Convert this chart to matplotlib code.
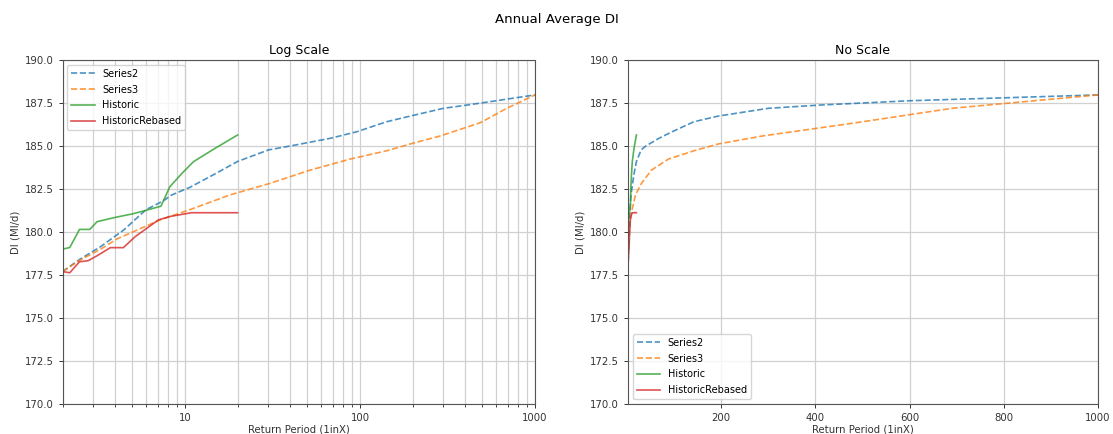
import matplotlib
matplotlib.use("Agg")
import matplotlib.pyplot as plt
from matplotlib.ticker import FormatStrFormatter, FuncFormatter, NullFormatter

# Series (return period, value)
series2_x = [2, 2.5, 3.3, 4.45, 6.0, 7.5, 8.4, 10.7, 15, 20, 30, 40, 68, 96, 142, 194, 300, 410, 600, 1000]
series2_y = [177.7, 178.4, 179.15, 180.1, 181.3, 181.8, 182.15, 182.6, 183.4, 184.1, 184.77, 185.0,
             185.45, 185.83, 186.41, 186.74, 187.19, 187.38, 187.63, 187.97]

series3_x = [2, 2.5, 3.3, 4.1, 7.2, 10.7, 18, 30.7, 52, 88, 142, 194, 287, 486, 690, 1000]
series3_y = [177.7, 178.35, 179.0, 179.6, 180.7, 181.3, 182.15, 182.83, 183.6, 184.24, 184.72,
             185.12, 185.58, 186.35, 187.19, 187.97]

historic_x = [2.0, 2.2, 2.5, 2.86, 3.15, 4.0, 5.0, 5.9, 7.3, 8.2, 9.6, 11.2, 14.9, 20]
historic_y = [179.0, 179.1, 180.15, 180.15, 180.6, 180.85, 181.05, 181.24, 181.5, 182.63, 183.4,
              184.09, 184.87, 185.64]

rebased_x = [2.0, 2.2, 2.5, 2.8, 3.2, 3.75, 4.45, 5.2, 7.05, 8.2, 10.9, 20]
rebased_y = [177.7, 177.63, 178.27, 178.33, 178.66, 179.09, 179.09, 179.73, 180.7, 180.9, 181.12, 181.12]

series_names = ["Series2", "Series3", "Historic", "HistoricRebased"]
colors = ["#1f77b4", "#ff7f0e", "#2ca02c", "#d62728"]
styles = ["--", "--", "-", "-"]
data = [(series2_x, series2_y), (series3_x, series3_y), (historic_x, historic_y), (rebased_x, rebased_y)]

fig = plt.figure(figsize=(11.13, 4.34), dpi=100)
ax1 = fig.add_axes([0.0562, 0.0691, 0.4245, 0.7927])
ax2 = fig.add_axes([0.5642, 0.0691, 0.4223, 0.7927])

for ax, log, title, loc in [(ax1, True, "Log Scale", "upper left"), (ax2, False, "No Scale", "lower left")]:
    for (xs, ys), name, c, ls in zip(data, series_names, colors, styles):
        ax.plot(xs, ys, ls, color=c, lw=1.2, alpha=0.8, label=name)
    if log:
        ax.set_xscale("log")
        ax.grid(True, which="both", color="#d0d0d0", lw=0.9)
        ax.xaxis.set_major_formatter(FuncFormatter(lambda v, p: "%g" % v))
        ax.xaxis.set_minor_formatter(NullFormatter())
    else:
        ax.grid(True, which="major", color="#d0d0d0", lw=0.9)
    ax.set_xlim(2, 1000)
    ax.set_ylim(170, 190)
    ax.set_yticks([170, 172.5, 175, 177.5, 180, 182.5, 185, 187.5, 190])
    ax.yaxis.set_major_formatter(FormatStrFormatter("%.1f"))
    ax.tick_params(labelsize=7.3, colors="#333333", width=0.7, length=3)
    ax.tick_params(which="minor", length=2, width=0.5)
    ax.set_title(title, fontsize=9, pad=4)
    ax.set_xlabel("Return Period (1inX)", fontsize=7.3, labelpad=1, color="#333333")
    ax.set_ylabel("DI (Ml/d)", fontsize=7.3, labelpad=3, color="#333333")
    for s in ax.spines.values():
        s.set_color("#555555")
        s.set_linewidth(0.8)
    ax.legend(loc=loc, fontsize=7, handlelength=2.4, labelspacing=0.6, framealpha=0.8)

fig.suptitle("Annual Average DI", fontsize=9.5, y=0.97)
fig.savefig("out.png", dpi=100)
